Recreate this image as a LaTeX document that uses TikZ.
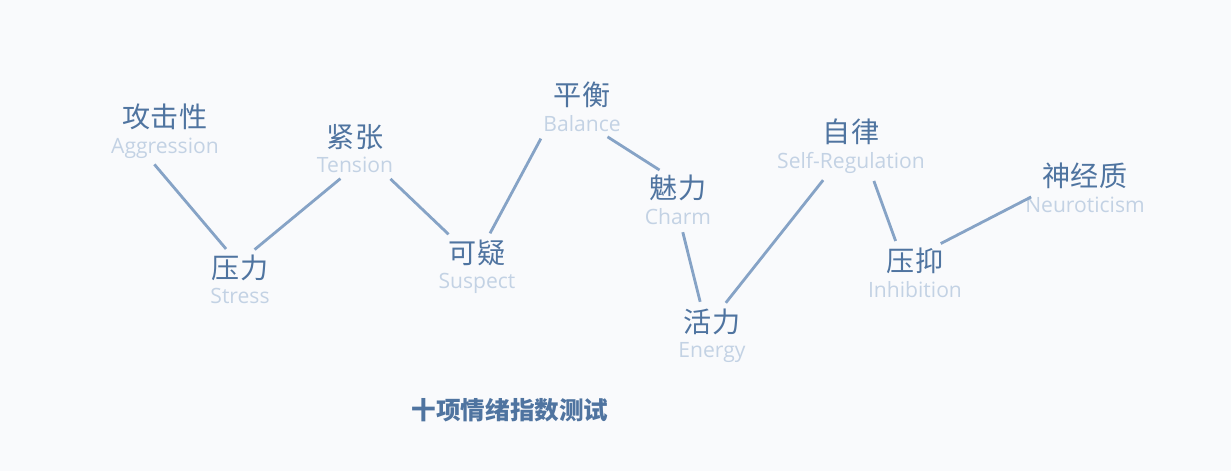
\documentclass[tikz,border=0pt]{standalone}
\usepackage{fontspec}
\setmainfont{Open Sans}
\newfontfamily\cjk{Noto Sans CJK SC}
\usetikzlibrary{positioning}
\definecolor{cntext}{HTML}{4F74A0}
\definecolor{entext}{HTML}{C3D2E4}
\definecolor{linkc}{HTML}{86A3C6}
\definecolor{bgc}{HTML}{F9FAFC}

\begin{document}
\begin{tikzpicture}[x=0.02cm,y=-0.02cm,
    cn/.style={font=\cjk\fontsize{16}{18}\selectfont, text=cntext, inner sep=1pt},
    en/.style={font=\fontsize{12}{14}\selectfont, text=entext, inner sep=1pt},
    link/.style={draw=linkc, line width=1.6pt, shorten <=3pt, shorten >=3pt}
]
\fill[bgc] (0,0) rectangle (1231,471);
\useasboundingbox (0,0) rectangle (1231,471);

% Labels
\node[cn] at (165,117) (aggC) {攻击性};
\node[en, below=2pt of aggC] (aggE) {Aggression};
\node[cn] at (355,137) (tenC) {紧张};
\node[en, below=2pt of tenC] (tenE) {Tension};
\node[cn] at (240,268) (strC) {压力};
\node[en, below=2pt of strC] (strE) {Stress};
\node[cn] at (477,253) (susC) {可疑};
\node[en, below=2pt of susC] (susE) {Suspect};
\node[cn] at (582,95) (balC) {平衡};
\node[en, below=2pt of balC] (balE) {Balance};
\node[cn] at (678,188) (chaC) {魅力};
\node[en, below=2pt of chaC] (chaE) {Charm};
\node[cn] at (712,322) (eneC) {活力};
\node[en, below=2pt of eneC] (eneE) {Energy};
\node[cn] at (851,132) (selC) {自律};
\node[en, below=2pt of selC] (selE) {Self-Regulation};
\node[cn] at (915,261) (inhC) {压抑};
\node[en, below=2pt of inhC] (inhE) {Inhibition};
\node[cn] at (1085,176) (neuC) {神经质};
\node[en, below=2pt of neuC] (neuE) {Neuroticism};

% Title
\node[cn, font=\cjk\bfseries\fontsize{14}{16}\selectfont] at (510,410) (title) {十项情绪指数测试};

% Links
\draw[link] ([xshift=-8pt]aggE.south) -- ([xshift=-6pt]strC.north);
\draw[link] ([xshift=6pt]strC.north) -- ([xshift=-6pt]tenE.south);
\draw[link] ([xshift=18pt]tenE.south) -- ([xshift=-14pt]susC.north);
\draw[link] ([xshift=6pt]susC.north) -- ([xshift=-22pt]balE.south);
\draw[link] ([xshift=12pt]balE.south) -- ([xshift=-8pt]chaC.north);
\draw[link] ([xshift=2pt]chaE.south) -- ([xshift=-6pt]eneC.north);
\draw[link] ([xshift=6pt]eneC.north) -- ([xshift=-14pt]selE.south);
\draw[link] ([xshift=12pt]selE.south) -- ([xshift=-10pt]inhC.north);
\draw[link] ([xshift=12pt]inhC.north) -- ([xshift=-28pt]neuE.north);
\end{tikzpicture}
\end{document}
